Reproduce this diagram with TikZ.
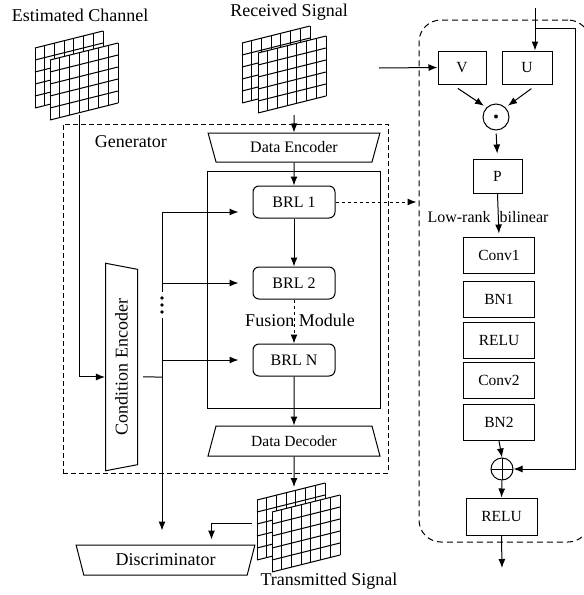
\documentclass[tikz,border=0pt]{standalone}
\usepackage{fontspec}
\setmainfont{Liberation Serif}
\usetikzlibrary{arrows.meta,shapes.geometric,positioning}

% one slanted grid sheet, top-left corner at (#1,#2)
\newcommand{\gridsheet}[2]{%
  \begin{scope}[shift={(#1,#2)},yslant=0.25]
    \fill[white] (0,0) -- (68,0) -- (68,60) -- (0,60) -- cycle;
    \foreach \i in {0,...,7} \draw (\i*68/7,0) -- (\i*68/7,60);
    \foreach \j in {0,...,5} \draw (0,\j*12) -- (68,\j*12);
  \end{scope}}

\begin{document}
\begin{tikzpicture}[x=1pt,y=-1pt,line width=1pt,>={Latex[length=9pt,width=7pt]},
    big text/.style={font=\fontsize{18}{21}\selectfont},
    box/.style={rectangle,draw,minimum width=71,minimum height=36,font=\fontsize{15.5}{18}\selectfont},
    brl/.style={rectangle,draw,rounded corners=6,minimum width=82,minimum height=32,font=\fontsize{16}{19}\selectfont},
    trap/.style={trapezium,draw,trapezium stretches=true,trapezium left angle=75,trapezium right angle=75}]
    \useasboundingbox (0,0) rectangle (584,595);

    % grids
    \gridsheet{35}{48}\gridsheet{50}{60}
    \gridsheet{242}{43}\gridsheet{258}{53}
    \gridsheet{257}{500}\gridsheet{272}{512}

    \node[big text] (t1) at (80,15) {Estimated Channel};
    \node[big text] (t2) at (289,12) {Received Signal};
    \node[big text] (t3) at (329,581) {Transmitted Signal};

    % generator
    \node[draw,dash pattern=on 5pt off 3pt,minimum width=325,minimum height=349] (gen) at (225.5,298.5) {};
    \node[big text,anchor=west] (gt) at (91,142) {Generator};
    \node[trap,shape border rotate=180,minimum width=172,minimum height=29,font=\fontsize{16}{19}\selectfont] (enc) at (294,147.5) {Data Encoder};
    \node[draw,minimum width=173,minimum height=237] (fusion) at (293.5,289.5) {};
    \node[brl] (brl1) at (294,202) {BRL 1};
    \node[brl] (brl2) at (294,283) {BRL 2};
    \node[brl] (brln) at (294,360) {BRL N};
    \node[big text] (fm) at (300,320) {Fusion Module};
    \node[trap,minimum width=172,minimum height=30,font=\fontsize{15.5}{18}\selectfont] (dec) at (294,441) {Data Decoder};
    \node[trap,shape border rotate=180,rotate=90,minimum width=208,minimum height=32,trapezium left angle=77,trapezium right angle=77,big text] (cond) at (121.5,367) {Condition Encoder};
    \node[trap,shape border rotate=180,minimum width=179,minimum height=30,big text] (disc) at (165.5,560) {Discriminator};

    \coordinate (est) at (79,115);
    \coordinate (rx) at (294,115);
    \coordinate (txin) at (294,487);
    \coordinate (tx) at (252,523);
    \coordinate (bustop) at (162,212);
    \coordinate (busgap) at (162,292);
    \coordinate (buslow) at (162,318);
    \coordinate (bus) at (162,377);

    \draw[->] (rx) -- (enc.north);
    \draw[->] (enc.south) -- (brl1.north);
    \draw[->] (brl1) -- (brl2);
    \draw[->,dashed] (brl2) -- (brln);
    \draw[->] (brln.south) -- (dec.north);
    \draw[->] (dec.south) -- (txin);
    \draw[->] (est) |- ([yshift=-10pt]cond.north);
    \draw ([yshift=-10pt]cond.south) ++(5,0) -- (bus);
    \draw (bustop) -- (busgap);
    \foreach \y in {298,305,312} \fill (162,\y) circle (1.8);
    \draw[->,shorten >=14pt] (buslow) -- (buslow |- disc.north);
    \draw[->,shorten >=14pt] (bustop) -- (bustop -| brl1.west);
    \draw[->,shorten >=14pt] (bus |- brl2.west) -- (brl2.west);
    \draw[->,shorten >=14pt] (bus |- brln.west) -- (brln.west);
    \draw[->,shorten >=5pt] (tx) -| ([xshift=46pt]disc.north);

    % bilinear residual block
    \node[draw,dash pattern=on 6pt off 4pt,rounded corners=22,minimum width=171,minimum height=522] (panel) at (504.5,281) {};
    \node[box,minimum width=48,minimum height=33] (v) at (462,67.5) {V};
    \node[box,minimum width=50,minimum height=33,right of=v,node distance=65] (u) {U};
    \node[circle,draw,minimum size=26,inner sep=0] (odot) at (496,117) {$\bullet$};
    \node[box,minimum width=49,minimum height=34] (p) at (497.5,176) {P};
    \node[box] (conv1) at (499,255) {Conv1};
    \node[box,below of=conv1,node distance=44] (bn1) {BN1};
    \node[box,below of=bn1,node distance=41] (relu1) {RELU};
    \node[box,below of=relu1,node distance=40] (conv2) {Conv2};
    \node[box,below of=conv2,node distance=42.5] (bn2) {BN2};
    \node[circle,draw,minimum size=22,inner sep=0,
      path picture={\draw (path picture bounding box.north) -- (path picture bounding box.south)
        (path picture bounding box.west) -- (path picture bounding box.east);}] (oplus) at (502,469) {};
    \node[box,minimum height=37] (relu2) at (501.5,516.5) {RELU};
    \node[font=\fontsize{16}{19}\selectfont] (lr) at (488,217) {Low-rank\hspace{9pt}bilinear};

    \coordinate (vin) at (379,68);
    \coordinate (uin) at (535,8);
    \coordinate (skip) at (535,28);
    \coordinate (out) at (502,568);

    \draw[->,dashed,shorten >=2pt] (brl1.east) -- (brl1.east -| panel.west);
    \draw[->] (vin) -- (v.west);
    \draw[->] (uin) -- (uin |- u.north);
    \draw[->] (skip) -- ++(40,0) |- (oplus.east);
    \draw[->,shorten <=7pt,shorten >=3pt] ([xshift=-10pt]v.south) -- (odot.north west);
    \draw[->,shorten <=7pt,shorten >=3pt] ([xshift=10pt]u.south) -- (odot.north east);
    \draw[->,shorten <=3pt,shorten >=5pt] (odot.south) -- (p.north);
    \draw[->,shorten >=3pt] (p.south) -- (conv1.north);
    \draw[->] (bn2.south) -- (oplus.north);
    \draw[->] (oplus.south) -- (relu2.north);
    \draw[->] (relu2.south) -- (out);
\end{tikzpicture}
\end{document}
